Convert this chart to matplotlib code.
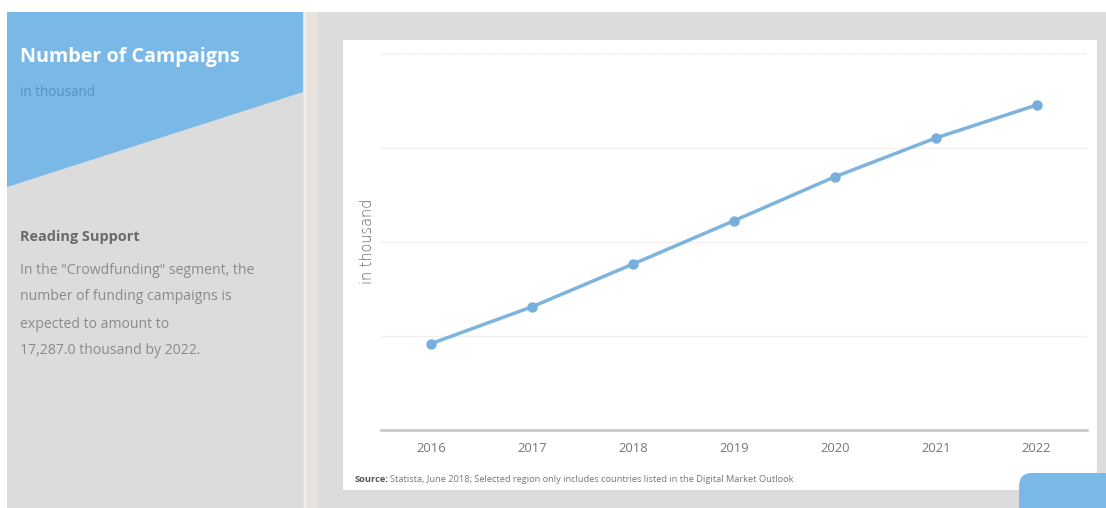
import matplotlib
matplotlib.use("Agg")
import matplotlib.pyplot as plt
from matplotlib.patches import Rectangle, Polygon, FancyBboxPatch

# Data: crowdfunding campaigns (in thousand)
years = ["2016", "2017", "2018", "2019", "2020", "2021", "2022"]
campaigns = [4600, 6560, 8830, 11130, 13470, 15530, 17287.0]

W, H = 1106, 508
DPI = 100

plt.rcParams["font.family"] = ["Open Sans", "DejaVu Sans"]

fig = plt.figure(figsize=(W / DPI, H / DPI), dpi=DPI, facecolor="white")


def fx(x):
    return x / W


def fy(y):
    return 1 - y / H


def pt(px):
    return px * 72 / DPI


BLUE = "#7ab8e8"
GRAY = "#dcdcdc"

# Left info panel
fig.patches.append(Rectangle((fx(7), fy(508)), fx(303) - fx(7), fy(12) - fy(508),
                             transform=fig.transFigure, facecolor=GRAY, edgecolor="none", zorder=0))
fig.patches.append(Polygon([(fx(7), fy(12)), (fx(303), fy(12)), (fx(303), fy(92)), (fx(7), fy(187))],
                           closed=True, transform=fig.transFigure, facecolor=BLUE, edgecolor="none", zorder=1))
# Separator strip
fig.patches.append(Rectangle((fx(303), fy(508)), fx(318) - fx(303), fy(12) - fy(508),
                             transform=fig.transFigure, facecolor="#e7e2dd", edgecolor="none", zorder=0))
fig.patches.append(Rectangle((fx(304), fy(508)), fx(306) - fx(304), fy(12) - fy(508),
                             transform=fig.transFigure, facecolor="#eeeeee", edgecolor="none", zorder=0))
# Right panel background
fig.patches.append(Rectangle((fx(318), fy(508)), fx(1106) - fx(318), fy(12) - fy(508),
                             transform=fig.transFigure, facecolor=GRAY, edgecolor="none", zorder=0))
# White chart card
fig.patches.append(Rectangle((fx(343), fy(490)), fx(1097) - fx(343), fy(40) - fy(490),
                             transform=fig.transFigure, facecolor="white", edgecolor="none", zorder=0))
# Blue corner tab
fig.patches.append(FancyBboxPatch((fx(1019), fy(530)), fx(1120) - fx(1019), fy(473) - fy(530),
                                  boxstyle="round,pad=0,rounding_size=0.012",
                                  transform=fig.transFigure, facecolor=BLUE, edgecolor="none",
                                  zorder=2, mutation_aspect=W / H))

# Panel texts
fig.text(fx(20), fy(57), "Number of Campaigns", color="white", fontsize=pt(19.8), fontweight="bold",
         ha="left", va="center")
fig.text(fx(20), fy(92), "in thousand", color="#5a92c8", fontsize=pt(13.5), ha="left", va="center")
fig.text(fx(20), fy(237), "Reading Support", color="#6a6a6a", fontsize=pt(14.5), fontweight="bold",
         ha="left", va="center")
body = ["In the \"Crowdfunding\" segment, the",
        "number of funding campaigns is",
        "expected to amount to",
        "17,287.0 thousand by 2022."]
for i, line in enumerate(body):
    fig.text(fx(20), fy(270 + 27 * i), line, color="#8a8a8a", fontsize=pt(14), ha="left", va="center")

# Chart axes
ax = fig.add_axes([fx(381), fy(430), fx(1087) - fx(381), fy(54) - fy(430)])
ax.set_zorder(5)
ax.set_facecolor("none")
x = list(range(len(years)))
ax.plot(x, campaigns, color="#7db4de", linewidth=2.5, marker="o", markersize=6.5,
        markerfacecolor="#76afdc", markeredgecolor="#76afdc", solid_capstyle="round", zorder=3)
ax.set_xlim(-0.5, len(years) - 0.5)
ax.set_ylim(0, 20000)
ax.set_xticks(x)
ax.set_xticklabels(years)
ax.set_yticks([5000, 10000, 15000])
ax.tick_params(axis="x", length=0, pad=9, labelsize=pt(13), labelcolor="#777777")
ax.tick_params(axis="y", length=0, labelleft=False)
ax.grid(axis="y", color="#f0f0f0", linewidth=1.0)
ax.axhline(20000, color="#e8e8e8", linewidth=1.2, linestyle=(0, (1, 1)), clip_on=False)
for side in ["top", "right", "left"]:
    ax.spines[side].set_visible(False)
ax.spines["bottom"].set_color("#c4c4c4")
ax.spines["bottom"].set_linewidth(1.8)

fig.text(fx(367), fy(241), "in thousand", rotation=90, color="#666666", fontsize=pt(14.5),
         ha="center", va="center", family=["DejaVu Sans"], fontweight="light", zorder=6)

# Source line
fig.text(fx(355), fy(479), "Source:", color="#555555", fontsize=pt(9.3), fontweight="bold",
         ha="left", va="center", zorder=6)
fig.text(fx(355 + 35), fy(479), "Statista, June 2018; Selected region only includes countries listed in the Digital Market Outlook",
         color="#777777", fontsize=pt(9.3), ha="left", va="center", zorder=6)

fig.savefig("out.png", dpi=DPI, facecolor="white")
